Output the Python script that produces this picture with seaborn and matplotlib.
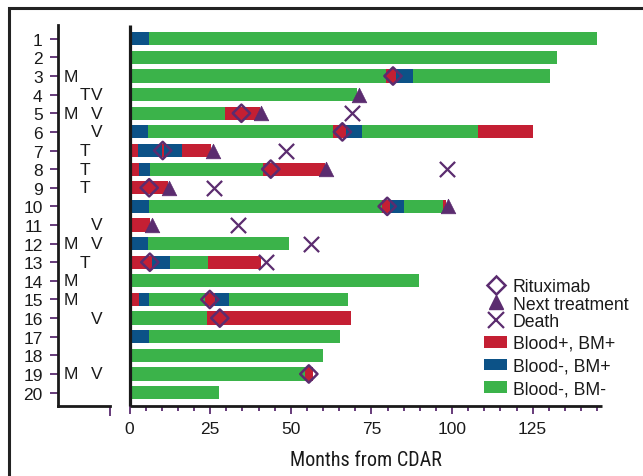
import matplotlib
matplotlib.use("Agg")
import matplotlib.pyplot as plt
import numpy as np
import pandas as pd
import seaborn as sns
from matplotlib.patches import Patch, Rectangle
from matplotlib.lines import Line2D
from matplotlib.ticker import FixedLocator

# ---- data -------------------------------------------------------------
patients = list(range(1, 21))

# disease state of each consecutive interval and the month at which it ends
# R = Blood+, BM+   B = Blood-, BM+   G = Blood-, BM-
segment_states = [
    ["R", "B", "G"],
    ["B", "G"],
    ["R", "G", "R", "B", "G"],
    ["R", "G"],
    ["R", "G", "R"],
    ["R", "B", "G", "R", "B", "G", "R"],
    ["R", "B", "R", "B", "R"],
    ["R", "B", "G", "R"],
    ["R"],
    ["R", "B", "G", "R", "B", "G", "R"],
    ["R"],
    ["R", "B", "G"],
    ["R", "B", "G", "R"],
    ["R", "G"],
    ["R", "B", "G", "R", "B", "G"],
    ["G", "R"],
    ["R", "B", "G"],
    ["R", "G"],
    ["R", "G", "R"],
    ["R", "G"],
]
segment_ends = [
    [0.6, 6.0, 145.0],
    [0.9, 132.6],
    [0.6, 79.4, 82.7, 87.8, 130.4],
    [0.6, 70.4],
    [0.6, 29.6, 40.4],
    [0.6, 5.7, 63.1, 67.2, 72.2, 108.2, 125.2],
    [2.5, 10.0, 10.8, 16.2, 25.4],
    [2.9, 6.3, 41.4, 60.7],
    [12.0],
    [0.6, 6.0, 78.2, 80.7, 85.0, 97.1, 98.0],
    [6.3],
    [0.6, 5.7, 49.4],
    [6.9, 12.5, 24.2, 40.9],
    [0.6, 89.9],
    [2.9, 6.0, 23.4, 26.5, 30.8, 67.6],
    [24.0, 68.6],
    [0.6, 6.0, 65.4],
    [0.6, 60.1],
    [0.6, 54.3, 56.9],
    [0.6, 27.7],
]

# patient characteristics shown in the left-hand panel
flag_M = [3, 5, 12, 14, 15, 19]
flag_T = [4, 7, 8, 9, 13]
flag_V = [4, 5, 6, 11, 12, 16, 19]

# events (patient, months from CDAR)
rituximab_patient = [3, 5, 6, 7, 8, 9, 10, 13, 15, 16, 19]
rituximab_month = [81.7, 34.7, 66.0, 10.3, 43.8, 6.1, 79.9, 6.3, 24.9, 28.0, 55.6]
next_tx_patient = [4, 5, 7, 8, 9, 10, 11]
next_tx_month = [71.1, 40.7, 25.8, 60.9, 12.2, 98.8, 7.1]
death_patient = [5, 7, 8, 9, 11, 12, 13]
death_month = [69.0, 48.5, 98.3, 26.3, 33.7, 56.2, 42.2]

state_labels = {"R": "Blood+, BM+", "B": "Blood-, BM+", "G": "Blood-, BM-"}
state_colors = {"R": "#C41F33", "B": "#0C5287", "G": "#3BB34A"}
purple = "#5B2C6F"
ink = "#1a1a1a"

# ---- figure -----------------------------------------------------------
sns.set_theme(style="white")
plt.rcParams["font.family"] = ["Liberation Sans", "DejaVu Sans"]

W, H = 643, 477
fig = plt.figure(figsize=(W / 100, H / 100), dpi=100)
bottom = 1 - 407 / H
height = 381 / H
ax_lab = fig.add_axes([58 / W, bottom, 52 / W, height])
ax = fig.add_axes([129.5 / W, bottom, 472.5 / W, height])

# long format table of bar segments
rows = []
for pid, states, ends in zip(patients, segment_states, segment_ends):
    start = 0.0
    for st, end in zip(states, ends):
        rows.append({"patient": pid, "state": st, "start": start, "end": end})
        start = end
segments = pd.DataFrame(rows)
segments["length"] = segments["end"] - segments["start"]

for st, grp in segments.groupby("state"):
    ax.barh(grp["patient"], grp["length"], left=grp["start"], height=0.71,
            color=state_colors[st], linewidth=0, zorder=2)

events = pd.concat([
    pd.DataFrame({"patient": rituximab_patient, "month": rituximab_month, "event": "Rituximab"}),
    pd.DataFrame({"patient": next_tx_patient, "month": next_tx_month, "event": "Next treatment"}),
    pd.DataFrame({"patient": death_patient, "month": death_month, "event": "Death"}),
])

sns.scatterplot(data=events[events.event == "Rituximab"], x="month", y="patient",
                marker="D", s=78, facecolors="none", edgecolor=purple,
                linewidth=1.8, ax=ax, zorder=4, legend=False)
sns.scatterplot(data=events[events.event == "Next treatment"], x="month", y="patient",
                marker="^", s=110, color=purple, edgecolor=purple, linewidth=0.5,
                ax=ax, zorder=4, legend=False)
sns.scatterplot(data=events[events.event == "Death"], x="month", y="patient",
                marker="x", s=120, color=purple, linewidth=1.6, ax=ax, zorder=4,
                legend=False)

ylim = (20.72, 0.26)
ax.set_ylim(*ylim)
ax.set_xlim(0, 146.5)
ax.set_yticks([])
ax.set_ylabel("")
ax.xaxis.set_major_locator(FixedLocator([0, 25, 50, 75, 100, 125]))
ax.xaxis.set_minor_locator(FixedLocator(np.arange(5, 150, 5)))
ax.tick_params(axis="x", which="major", direction="out", length=6, width=1.3,
               color=purple, labelsize=12.5, pad=5, bottom=True, labelcolor=ink)
ax.tick_params(axis="x", which="minor", direction="out", length=3.5, width=1.3,
               color=purple, bottom=True)
for side in ("top", "right"):
    ax.spines[side].set_visible(False)
ax.spines["left"].set_linewidth(2.3)
ax.spines["bottom"].set_linewidth(2.0)
for side in ("left", "bottom"):
    ax.spines[side].set_color(ink)
    ax.spines[side].set_capstyle("butt")
ax.set_xlabel("Months from CDAR", fontsize=14.5, color=ink,
              family=["Roboto Condensed", "Liberation Sans Narrow", "DejaVu Sans"],
              fontstretch="condensed", labelpad=10)

# left panel with patient numbers and characteristics
ax_lab.set_xlim(0, 1)
ax_lab.set_ylim(*ylim)
ax_lab.set_yticks(patients)
ax_lab.set_yticklabels([str(p) for p in patients])
ax_lab.tick_params(axis="y", direction="out", length=5.5, width=1.3, color=purple,
                   labelsize=12.5, pad=5.5, left=True, labelcolor=ink)
ax_lab.set_xticks([1])
ax_lab.set_xticklabels([])
ax_lab.tick_params(axis="x", direction="out", length=7, width=1.3, color=purple,
                   bottom=True)
for side in ("top", "right"):
    ax_lab.spines[side].set_visible(False)
for side in ("left", "bottom"):
    ax_lab.spines[side].set_linewidth(2.0)
    ax_lab.spines[side].set_color(ink)
ax_lab.set_facecolor("none")

letter_x = {"M": 0.25, "T": 0.51, "V": 0.74}
for letter, plist in (("M", flag_M), ("T", flag_T), ("V", flag_V)):
    for p in plist:
        ax_lab.text(letter_x[letter], p, letter, ha="center", va="center",
                    fontsize=12.5, color=ink)

# legends: event markers, then disease states
marker_handles = [
    Line2D([], [], marker="D", ls="none", mfc="none", mec=purple, mew=1.8, ms=8.8),
    Line2D([], [], marker="^", ls="none", mfc=purple, mec=purple, ms=10.5),
    Line2D([], [], marker="x", ls="none", color=purple, mew=1.6, ms=11),
]
marker_labels = ["Rituximab", "Next treatment", "Death"]
state_handles = [Patch(facecolor=state_colors[k], linewidth=0) for k in ("R", "B", "G")]
state_names = [state_labels[k] for k in ("R", "B", "G")]

common = dict(loc="upper left", bbox_transform=fig.transFigure, frameon=False,
              fontsize=12.7, handlelength=1.33, handletextpad=0.3,
              borderpad=0, borderaxespad=0, labelcolor=ink)
leg1 = ax.legend(marker_handles, marker_labels, bbox_to_anchor=(484 / W, 1 - 279 / H),
                 labelspacing=0.0, handleheight=0.9, **common)
ax.add_artist(leg1)
ax.legend(state_handles, state_names, bbox_to_anchor=(484 / W, 1 - 336 / H),
          labelspacing=0.32, handleheight=0.66, **common)

# outer frame
fig.patches.append(Rectangle((9 / W, -0.1), 1.2, (1 - 9 / H) + 0.1,
                             transform=fig.transFigure, fill=False, lw=2.2,
                             ec="#222222", zorder=10))

fig.savefig("out.png", dpi=100)
